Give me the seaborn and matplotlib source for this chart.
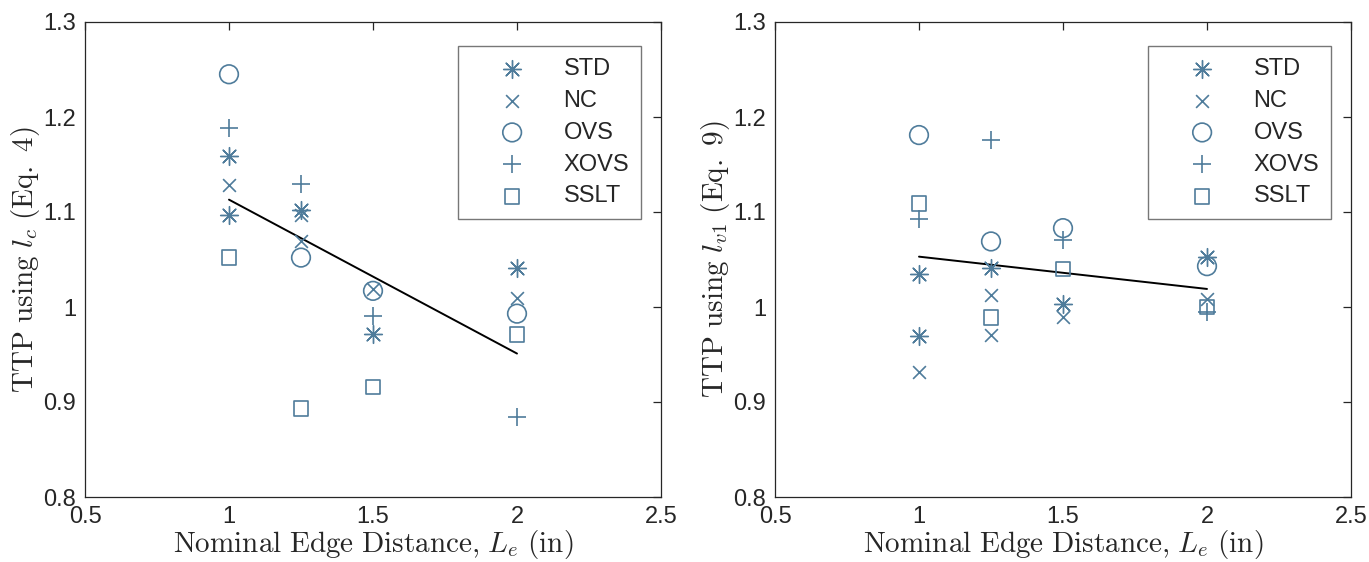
import numpy as np
import pandas as pd
import matplotlib
matplotlib.use("Agg")
import matplotlib.pyplot as plt
import seaborn as sns

# ---- data ----
types = ["STD", "NC", "OVS", "XOVS", "SSLT"]

left_x = {
    "STD":  [1.0, 1.0, 1.25, 1.5, 2.0],
    "NC":   [1.0, 1.25, 1.25, 1.5, 2.0],
    "OVS":  [1.0, 1.25, 1.5, 2.0],
    "XOVS": [1.0, 1.25, 1.5, 2.0],
    "SSLT": [1.0, 1.25, 1.5, 2.0],
}
left_y = {
    "STD":  [1.159, 1.097, 1.102, 0.972, 1.041],
    "NC":   [1.128, 1.097, 1.069, 1.019, 1.009],
    "OVS":  [1.245, 1.052, 1.017, 0.993],
    "XOVS": [1.188, 1.130, 0.991, 0.884],
    "SSLT": [1.052, 0.893, 0.916, 0.971],
}
right_x = {
    "STD":  [1.0, 1.0, 1.25, 1.5, 2.0],
    "NC":   [1.0, 1.25, 1.25, 1.5, 2.0],
    "OVS":  [1.0, 1.25, 1.5, 2.0],
    "XOVS": [1.0, 1.25, 1.5, 2.0],
    "SSLT": [1.0, 1.25, 1.5, 2.0],
}
right_y = {
    "STD":  [1.035, 0.969, 1.041, 1.003, 1.053],
    "NC":   [0.932, 1.013, 0.971, 0.989, 1.008],
    "OVS":  [1.181, 1.069, 1.083, 1.043],
    "XOVS": [1.093, 1.176, 1.071, 0.995],
    "SSLT": [1.109, 0.989, 1.040, 1.000],
}
fit_x = [1.0, 2.0]
left_fit_y = [1.113, 0.951]
right_fit_y = [1.053, 1.019]

x_ticks = [0.5, 1, 1.5, 2, 2.5]
y_ticks = [0.8, 0.9, 1.0, 1.1, 1.2, 1.3]
y_tick_labels = ["0.8", "0.9", "1", "1.1", "1.2", "1.3"]
x_tick_labels = ["0.5", "1", "1.5", "2", "2.5"]

# ---- style ----
sns.set_theme(style="white")
plt.rcParams["font.family"] = ["Liberation Sans", "DejaVu Sans"]
plt.rcParams["mathtext.fontset"] = "cm"

color = "#4f7c9b"
markers = {"STD": (8, 2, 0), "NC": "x", "OVS": "o", "XOVS": "+", "SSLT": "s"}
sizes = {"STD": 165, "NC": 85, "OVS": 180, "XOVS": 175, "SSLT": 110}
filled = {"STD": False, "NC": False, "OVS": True, "XOVS": False, "SSLT": True}
widths = {"STD": 1.0, "NC": 1.2, "OVS": 1.2, "XOVS": 1.2, "SSLT": 1.2}

fig = plt.figure(figsize=(13.69, 5.62), dpi=100)
ax1 = fig.add_axes([85 / 1369, 1 - 497 / 562, 576 / 1369, 475 / 562])
ax2 = fig.add_axes([775 / 1369, 1 - 497 / 562, 576 / 1369, 475 / 562])

axis_color = "#262626"


def draw(ax, xs, ys, fx, fy, ylabel):
    for t in types:
        df = pd.DataFrame({"x": xs[t], "y": ys[t]})
        kw = dict(data=df, x="x", y="y", ax=ax, marker=markers[t], s=sizes[t],
                  label=t, linewidth=widths[t], zorder=3)
        if filled[t]:
            kw.update(facecolor="none", edgecolor=color)
        else:
            kw.update(color=color)
        sns.scatterplot(**kw)
    sns.lineplot(x=fx, y=fy, ax=ax, color="black", linewidth=1.4, zorder=2)
    ax.set_xlim(0.5, 2.5)
    ax.set_ylim(0.8, 1.3)
    ax.set_xticks(x_ticks)
    ax.set_xticklabels(x_tick_labels)
    ax.set_yticks(y_ticks)
    ax.set_yticklabels(y_tick_labels)
    ax.tick_params(direction="in", length=6, width=0.9, top=True, right=True,
                   labelsize=17, colors=axis_color, pad=6.5)
    for sp in ax.spines.values():
        sp.set_visible(True)
        sp.set_color(axis_color)
        sp.set_linewidth(0.9)
    ax.set_xlabel(r"$\mathrm{Nominal\ Edge\ Distance{,}\ }L_e\mathrm{\ (in)}$",
                  fontsize=21, color=axis_color, labelpad=0)
    ax.set_ylabel(ylabel, fontsize=21, color=axis_color, labelpad=1)
    leg = ax.legend(loc="upper right", bbox_to_anchor=(0.9653, 0.9495),
                    borderaxespad=0, fontsize=17, frameon=True, fancybox=False,
                    handletextpad=0.38, labelspacing=0.42, borderpad=0.5,
                    handlelength=3.6)
    leg.get_frame().set_edgecolor("#555555")
    leg.get_frame().set_linewidth(1.0)
    for txt in leg.get_texts():
        txt.set_color(axis_color)


draw(ax1, left_x, left_y, fit_x, left_fit_y,
     r"$\mathrm{TTP\ using\ }l_c\mathrm{\ (Eq.\ 4)}$")
draw(ax2, right_x, right_y, fit_x, right_fit_y,
     r"$\mathrm{TTP\ using\ }l_{v1}\mathrm{\ (Eq.\ 9)}$")

fig.savefig("out.png", dpi=100)
